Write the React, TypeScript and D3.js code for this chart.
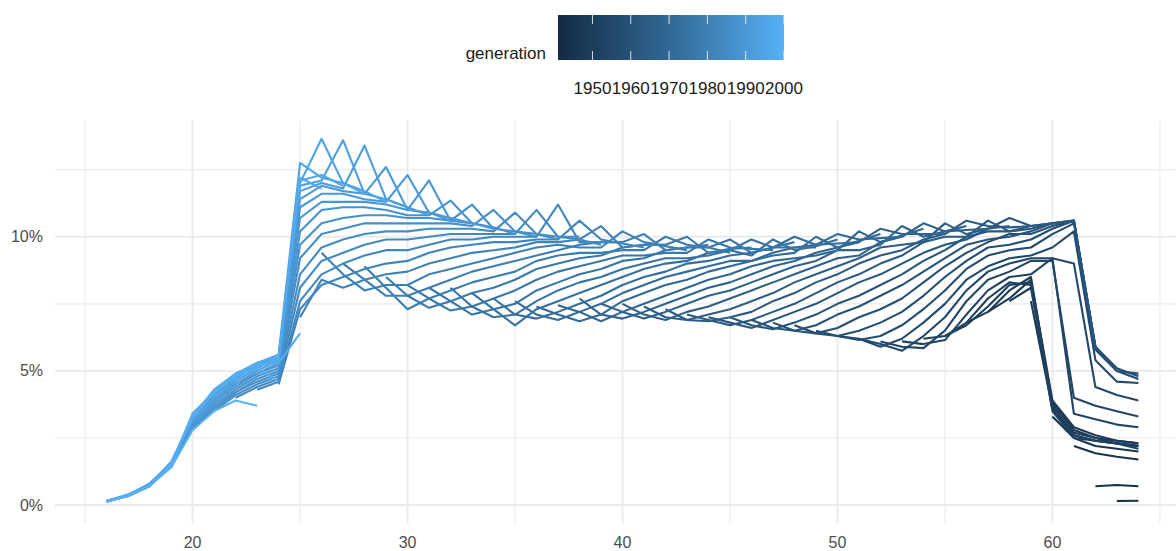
import React from 'react';
import * as d3 from 'd3';

const width = 1176,
  height = 551,
  panel = { left: 55, right: 1190, top: 120.5, bottom: 523.4 },
  lowColour = '#132B43',
  highColour = '#56B1F7',
  gridColour = '#ebebeb',
  font = '"Liberation Sans", Arial, sans-serif';

const _ = null;

// one row per observation year, value (%) per age 16..64
const years = [2006, 2007, 2008, 2009, 2010, 2011, 2012, 2013, 2014, 2015, 2016, 2017, 2018, 2019, 2020, 2021, 2022, 2023];
const ages = d3.range(16, 65);

const r2006 = [0.15, 0.35, 0.75, 1.4, 2.8, 3.5, 4.0, 4.3, 4.5,
  7.0, 9.4, 9.0, 8.9, 8.5, 8.2, 8.1, 8.1, 7.9, 7.7,
  7.6, 7.4, 7.45, 7.7, 7.5, 7.5, 7.4, 7.3, 7.1, 7.0,
  7.0, 6.9, 6.8, 6.7, 6.5, 6.3, 6.2, 6.1, 6.1, 6.2,
  6.3, 6.8, 7.2, 7.6, 7.6,
  3.3, 2.2, 0.7, 0.15, 0.15];
const r2007 = [0.12, 0.33, 0.7, 1.45, 2.9, 3.6, 4.1, 4.4, 4.6,
  7.3, 8.4, 8.6, 8.4, 8.1, 7.8, 7.7, 7.6, 7.4, 7.3,
  7.1, 7.1, 7.1, 7.2, 7.1, 7.2, 7.1, 7.0, 6.9, 6.9,
  6.8, 6.7, 6.6, 6.5, 6.4, 6.3, 6.2, 6.0, 5.9, 6.0,
  6.3, 6.7, 7.2, 7.7, 8.1,
  3.6, 2.5, 1.93, 0.75, 0.16];
const r2008 = [0.14, 0.36, 0.72, 1.5, 2.9, 3.6, 4.2, 4.5, 4.7,
  7.6, 8.2, 8.1, 8.0, 7.8, 7.3, 7.35, 7.25, 7.1, 7.0,
  6.7, 6.95, 6.9, 6.85, 6.85, 6.95, 6.95, 6.9, 6.9, 6.85,
  6.7, 6.6, 6.55, 6.5, 6.4, 6.3, 6.15, 5.9, 5.75, 5.85,
  6.15, 6.8, 7.4, 8.0, 8.4,
  3.8, 2.6, 2.2, 1.8, 0.7];
const r2009 = [0.13, 0.34, 0.7, 1.5, 3.0, 3.7, 4.2, 4.6, 4.8,
  8.1, 8.6, 8.5, 8.4, 8.2, 7.8, 7.7, 7.6, 7.4, 7.3,
  7.1, 7.3, 7.2, 7.2, 7.1, 7.2, 7.2, 7.2, 7.2, 7.1,
  7.0, 6.9, 6.9, 6.8, 6.7, 6.6, 6.5, 6.3, 6.2, 6.3,
  6.5, 7.1, 7.7, 8.2, 8.5,
  3.9, 2.8, 2.4, 2.1, 1.7];
const r2010 = [0.15, 0.38, 0.74, 1.55, 3.1, 3.8, 4.3, 4.7, 4.9,
  8.6, 9.1, 9.0, 8.8, 8.6, 8.2, 8.1, 8.0, 7.9, 7.7,
  7.5, 7.6, 7.6, 7.5, 7.5, 7.6, 7.5, 7.5, 7.5, 7.4,
  7.3, 7.2, 7.2, 7.2, 7.1, 7.1, 7.0, 6.8, 6.7, 6.8,
  7.0, 7.6, 8.0, 8.3, 8.3,
  3.7, 2.9, 2.5, 2.3, 2.0];
const r2011 = [0.12, 0.35, 0.8, 1.6, 3.1, 3.9, 4.4, 4.8, 5.0,
  9.2, 9.6, 9.4, 9.3, 9.0, 8.7, 8.6, 8.4, 8.3, 8.1,
  8.0, 8.0, 8.0, 7.9, 7.8, 7.9, 7.9, 7.8, 7.8, 7.8,
  7.7, 7.6, 7.6, 7.5, 7.5, 7.5, 7.4, 7.3, 7.2, 7.3,
  7.5, 8.0, 8.4, 8.5, 8.2,
  3.6, 2.7, 2.6, 2.4, 2.2];
const r2012 = [0.14, 0.37, 0.78, 1.55, 3.2, 3.9, 4.5, 4.9, 5.1,
  9.7, 10.1, 9.9, 9.7, 9.5, 9.1, 9.0, 8.8, 8.7, 8.5,
  8.4, 8.4, 8.3, 8.3, 8.2, 8.2, 8.2, 8.2, 8.1, 8.1,
  8.0, 8.0, 7.9, 7.9, 7.9, 7.9, 7.8, 7.8, 7.7, 7.8,
  8.0, 8.4, 8.7, 8.7, 8.6,
  3.5, 2.6, 2.5, 2.4, 2.3];
const r2013 = [0.16, 0.4, 0.8, 1.6, 3.3, 4.0, 4.5, 4.9, 5.2,
  10.2, 10.5, 10.3, 10.1, 9.9, 9.5, 9.4, 9.2, 9.0, 8.9,
  8.7, 8.8, 8.7, 8.6, 8.5, 8.5, 8.5, 8.5, 8.4, 8.4,
  8.3, 8.3, 8.3, 8.3, 8.3, 8.3, 8.3, 8.2, 8.2, 8.3,
  8.5, 8.8, 8.9, 9.0, 9.1,
  9.2, 2.5, 2.4, 2.3, 2.3];
const r2014 = [0.15, 0.38, 0.76, 1.5, 3.2, 4.1, 4.6, 5.0, 5.3,
  10.7, 11.0, 10.7, 10.5, 10.2, 9.9, 9.7, 9.6, 9.4, 9.2,
  9.1, 9.1, 9.0, 8.9, 8.8, 8.8, 8.8, 8.7, 8.7, 8.7,
  8.6, 8.6, 8.6, 8.6, 8.6, 8.6, 8.6, 8.6, 8.6, 8.7,
  8.9, 9.1, 9.3, 9.2, 9.2,
  9.1, 3.4, 2.4, 2.3, 2.2];
const r2015 = [0.13, 0.36, 0.74, 1.45, 3.3, 4.1, 4.7, 5.1, 5.4,
  11.1, 11.3, 11.1, 10.8, 10.5, 10.2, 10.0, 9.9, 9.7, 9.5,
  9.4, 9.3, 9.3, 9.2, 9.1, 9.1, 9.0, 9.0, 9.0, 8.9,
  8.9, 8.9, 8.9, 8.9, 8.9, 8.9, 9.0, 9.0, 9.0, 9.1,
  9.2, 9.4, 9.6, 9.5, 9.3,
  9.2, 4.0, 3.2, 2.3, 2.2];
const r2016 = [0.12, 0.34, 0.72, 1.5, 3.4, 4.2, 4.7, 5.2, 5.5,
  11.4, 11.6, 11.3, 11.1, 10.8, 10.5, 10.3, 10.1, 9.9, 9.8,
  9.6, 9.6, 9.5, 9.4, 9.3, 9.3, 9.2, 9.2, 9.1, 9.1,
  9.1, 9.1, 9.1, 9.1, 9.1, 9.2, 9.2, 9.3, 9.3, 9.4,
  9.5, 9.7, 9.8, 9.7, 9.6,
  9.6, 9.0, 3.7, 3.0, 2.1];
const r2017 = [_, 0.36, 0.7, 1.5, 3.3, 4.2, 4.8, 5.2, 5.5,
  11.7, 11.9, 11.6, 11.3, 11.0, 10.7, 10.5, 10.3, 10.1, 10.0,
  9.8, 9.8, 9.7, 9.7, 9.4, 9.6, 9.3, 9.5, 9.2, 9.4,
  9.3, 9.1, 9.4, 9.2, 9.4, 9.5, 9.3, 9.6, 9.5, 9.8,
  9.7, 10.0, 9.9, 10.1, 9.9,
  10.1, 10.2, 4.4, 3.5, 2.9];
const r2018 = [_, _, 0.72, 1.55, 3.4, 4.3, 4.8, 5.3, 5.5,
  11.9, 12.0, 11.7, 11.4, 11.2, 10.8, 10.7, 10.5, 10.3, 10.1,
  10.0, 9.9, 9.8, 9.6, 9.8, 9.5, 9.7, 9.4, 9.6, 9.3,
  9.5, 9.4, 9.3, 9.6, 9.3, 9.6, 9.5, 9.8, 9.7, 9.9,
  10.0, 9.9, 10.2, 10.0, 10.1,
  10.3, 10.5, 5.4, 4.1, 3.3];
const r2019 = [_, _, _, 1.4, 3.3, 4.2, 4.9, 5.3, 5.6,
  12.0, 12.1, 11.8, 11.6, 11.3, 11.0, 10.8, 10.6, 10.4, 10.2,
  10.1, 10.0, 9.9, 9.9, 9.6, 9.8, 9.5, 9.7, 9.4, 9.6,
  9.5, 9.3, 9.6, 9.4, 9.7, 9.5, 9.8, 9.7, 10.0, 9.8,
  10.1, 10.0, 10.3, 10.2, 10.2,
  10.4, 10.6, 5.9, 4.6, 3.9];
const r2020 = [_, _, _, _, 2.8, 4.2, 4.9, 5.3, 5.5,
  12.75, 13.65, 13.6, 13.4, 12.6, 12.3, 12.1, 11.35, 11.2, 11.0,
  10.9, 11.0, 11.2, 10.6, 10.4, 10.2, 10.1, 10.0, 10.0, 9.9,
  9.9, 9.9, 9.9, 10.0, 10.0, 10.1, 10.2, 10.3, 10.4, 10.5,
  10.5, 10.6, 10.6, 10.7, 10.3,
  10.5, 10.6, 5.8, 5.0, 4.55];
const r2021 = [_, _, _, _, _, 3.5, 4.8, 5.2, 5.4,
  12.1, 12.2, 12.0, 11.6, 11.4, 11.0, 10.9, 10.6, 10.5, 10.3,
  10.2, 10.1, 10.0, 9.8, 9.9, 9.6, 9.8, 9.5, 9.7, 9.4,
  9.6, 9.4, 9.6, 9.5, 9.7, 9.6, 9.9, 9.8, 10.1, 10.0,
  10.2, 10.1, 10.4, 10.2, 10.4,
  10.5, 10.6, 5.9, 5.0, 4.7];
const r2022 = [_, _, _, _, _, _, 3.9, 5.1, 5.3,
  12.2, 12.3, 12.0, 11.7, 11.4, 11.1, 10.9, 10.7, 10.5, 10.35,
  10.2, 10.1, 10.0, 9.9, 9.8, 9.75, 9.7, 9.65, 9.6, 9.6,
  9.55, 9.55, 9.6, 9.6, 9.65, 9.75, 9.85, 9.95, 10.05, 10.1,
  10.2, 10.25, 10.3, 10.35, 10.4,
  10.5, 10.6, 5.8, 5.1, 4.9];
const r2023 = [_, _, _, _, _, _, _, 3.7, 4.6,
  6.4, 11.8, 11.9, 11.6, 11.3, 11.1, 10.8, 10.6, 10.5, 10.3,
  10.1, 10.0, 9.9, 10.0, 9.7, 9.8, 9.6, 9.7, 9.5, 9.7,
  9.4, 9.6, 9.5, 9.8, 9.6, 9.9, 9.8, 10.1, 10.0, 10.3,
  10.1, 10.4, 10.3, 10.4, 10.4,
  10.5, 10.6, 5.9, 5.0, 4.8];

const rows = [r2006, r2007, r2008, r2009, r2010, r2011, r2012, r2013, r2014,
  r2015, r2016, r2017, r2018, r2019, r2020, r2021, r2022, r2023];

const firstGeneration = 1942, lastGeneration = 2000;
const legendLimits = [1941, 2000];
const legendTicks = [1950, 1960, 1970, 1980, 1990, 2000];
const xTicks = [20, 30, 40, 50, 60];
const xMinor = [15, 25, 35, 45, 55, 65];
const yTicks = [0, 5, 10];
const yMinor = [2.5, 7.5, 12.5];

// a generation is followed across the years: age = year - generation
const series = d3.range(firstGeneration, lastGeneration + 1).map(gen => ({
  gen,
  points: years
    .map((yr, k) => ({ age: yr - gen, v: rows[k][yr - gen - ages[0]] }))
    .filter(p => p.age >= ages[0] && p.age <= ages[ages.length - 1] && p.v != null),
}));

const ageLo = ages[0], ageHi = ages[ages.length - 1];
const xPad = (ageHi - ageLo) * 0.05;
const xScale = d3.scaleLinear().domain([ageLo - xPad, ageHi + xPad]).range([panel.left, panel.right]);
const vMax = d3.max(rows.flat().filter(v => v != null)) as number;
const yScale = d3.scaleLinear().domain([-vMax * 0.05, vMax * 1.05]).range([panel.bottom, panel.top]);

const colour = d3.scaleLinear<string>().domain(legendLimits).range([lowColour, highColour]).interpolate(d3.interpolateLab);

const line = d3.line<{ age: number; v: number }>()
  .x(d => xScale(d.age))
  .y(d => yScale(d.v));

const bar = { x0: 558, x1: 784, y0: 15, y1: 60 };
const barScale = d3.scaleLinear().domain(legendLimits).range([bar.x0, bar.x1]);

export default function App() {
  const stops = d3.range(0, 1.0001, 0.05);
  const tickLen = (bar.y1 - bar.y0) / 5;
  return (
    <svg width={width} height={height} style={{ position: 'absolute', left: 0, top: 0, background: '#fff' }}>
      <defs>
        <linearGradient id="genGrad" x1="0" x2="1" y1="0" y2="0">
          {stops.map(t => (
            <stop key={t} offset={t} stopColor={colour(legendLimits[0] + t * (legendLimits[1] - legendLimits[0]))} />
          ))}
        </linearGradient>
      </defs>

      {/* grid */}
      <g>
        {yMinor.map(v => (
          <line key={'ym' + v} x1={panel.left} x2={panel.right} y1={yScale(v)} y2={yScale(v)} stroke={gridColour} strokeWidth={1.1} />
        ))}
        {xMinor.map(v => (
          <line key={'xm' + v} x1={xScale(v)} x2={xScale(v)} y1={panel.top} y2={panel.bottom} stroke={gridColour} strokeWidth={1.1} />
        ))}
        {yTicks.map(v => (
          <line key={'y' + v} x1={panel.left} x2={panel.right} y1={yScale(v)} y2={yScale(v)} stroke={gridColour} strokeWidth={2} />
        ))}
        {xTicks.map(v => (
          <line key={'x' + v} x1={xScale(v)} x2={xScale(v)} y1={panel.top} y2={panel.bottom} stroke={gridColour} strokeWidth={2} />
        ))}
      </g>

      {/* one line per generation */}
      <g fill="none" strokeWidth={2.1} strokeLinejoin="round">
        {series.filter(s => s.points.length > 1).map(s => (
          <path key={s.gen} d={line(s.points as any) || ''} stroke={colour(s.gen)} />
        ))}
      </g>

      {/* axis labels */}
      <g fontFamily={font} fontSize={16} fill="#4d4d4d">
        {yTicks.map(v => (
          <text key={v} x={43} y={yScale(v)} textAnchor="end" dominantBaseline="central">{v + '%'}</text>
        ))}
        {xTicks.map(v => (
          <text key={v} x={xScale(v)} y={548} textAnchor="middle">{v}</text>
        ))}
      </g>

      {/* legend */}
      <g fontFamily={font} fontSize={17} fill="#1a1a1a">
        <text x={546} y={59} textAnchor="end">generation</text>
        <rect x={bar.x0} y={bar.y0} width={bar.x1 - bar.x0} height={bar.y1 - bar.y0} fill="url(#genGrad)" />
        {legendTicks.map(t => (
          <g key={t}>
            <line x1={barScale(t)} x2={barScale(t)} y1={bar.y0} y2={bar.y0 + tickLen} stroke="#fff" strokeOpacity={0.8} strokeWidth={1} />
            <line x1={barScale(t)} x2={barScale(t)} y1={bar.y1 - tickLen} y2={bar.y1} stroke="#fff" strokeOpacity={0.8} strokeWidth={1} />
            <text x={barScale(t)} y={94} textAnchor="middle">{t}</text>
          </g>
        ))}
      </g>
    </svg>
  );
}
